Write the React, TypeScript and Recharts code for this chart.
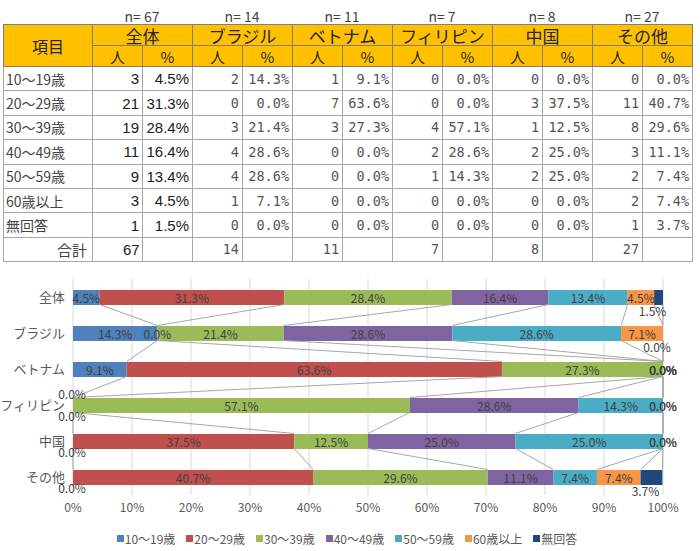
import React from 'react';
import { BarChart, Bar, XAxis, YAxis, CartesianGrid, ReferenceDot, ReferenceLine, Legend } from 'recharts';

const groups = ['全体', 'ブラジル', 'ベトナム', 'フィリピン', '中国', 'その他'];
const groupN = [67, 14, 11, 7, 8, 27];
const ageLabels = ['10〜19歳', '20〜29歳', '30〜39歳', '40〜49歳', '50〜59歳', '60歳以上', '無回答'];
const countsAll = [3, 21, 19, 11, 9, 3, 1];
const countsBrazil = [2, 0, 3, 4, 4, 1, 0];
const countsVietnam = [1, 7, 3, 0, 0, 0, 0];
const countsPhilippines = [0, 0, 4, 2, 1, 0, 0];
const countsChina = [0, 3, 1, 2, 2, 0, 0];
const countsOther = [0, 11, 8, 3, 2, 2, 1];
const pctAll = [4.5, 31.3, 28.4, 16.4, 13.4, 4.5, 1.5];
const pctBrazil = [14.3, 0, 21.4, 28.6, 28.6, 7.1, 0];
const pctVietnam = [9.1, 63.6, 27.3, 0, 0, 0, 0];
const pctPhilippines = [0, 0, 57.1, 28.6, 14.3, 0, 0];
const pctChina = [0, 37.5, 12.5, 25, 25, 0, 0];
const pctOther = [0, 40.7, 29.6, 11.1, 7.4, 7.4, 3.7];
const xTicks = [0, 10, 20, 30, 40, 50, 60, 70, 80, 90, 100];

const countsByGroup = [countsAll, countsBrazil, countsVietnam, countsPhilippines, countsChina, countsOther];
const pctByGroup = [pctAll, pctBrazil, pctVietnam, pctPhilippines, pctChina, pctOther];
const seriesKeys = ['s0', 's1', 's2', 's3', 's4', 's5', 's6'];
const colors = ['#4F81BD', '#C0504D', '#9BBB59', '#8064A2', '#4BACC6', '#F79646', '#1F497D'];

const chartData: any[] = groups.map((g, gi) => {
  const row: any = { name: g };
  seriesKeys.forEach((k, si) => { row[k] = pctByGroup[gi][si]; });
  return row;
});
const cumulative = chartData.map((row) => {
  let c = 0;
  return seriesKeys.map((k) => { c = Math.round((c + row[k]) * 10) / 10; return c; });
});

const JP = '"Noto Sans CJK JP", "Noto Sans", sans-serif';
const BAR_HALF = 7.5;

// label placement (style): zero-width / tiny segments moved off the bar like the original
const labelOffset = (gi: number, si: number) => {
  const row = chartData[gi];
  const v = row[seriesKeys[si]];
  if (si === 0 && v === 0) return { dx: -1, dy: 10.5 };
  if (si === 1 && v === 0 && row.s0 === 0) return { dx: -1, dy: -11.5 };
  if (si === 6 && row.s5 !== 0) return { dx: -6, dy: 13 };
  return { dx: 0, dy: 0 };
};

const makeLabelShape = (gi: number, si: number) => (p: any) => {
  const { dx, dy } = labelOffset(gi, si);
  const v = chartData[gi][seriesKeys[si]];
  return (
    <text x={p.cx + dx} y={p.cy + dy} textAnchor="middle" dominantBaseline="central" fontSize={12} fill="#404040" fontFamily={JP}>
      {v.toFixed(1)}%
    </text>
  );
};

const SeriesLine = (p: any) => (
  <line x1={p.x1} y1={p.y1 + BAR_HALF} x2={p.x2} y2={p.y2 - BAR_HALF} stroke="#A6A6A6" strokeWidth={1} />
);

const renderLegend = () => (
  <div style={{ display: 'flex', justifyContent: 'center', alignItems: 'center', height: 16, fontSize: 12, color: '#595959', fontFamily: JP, paddingLeft: 42 }}>
    {ageLabels.map((l, i) => (
      <span key={l} style={{ display: 'flex', alignItems: 'center', marginRight: 11 }}>
        <span style={{ display: 'inline-block', width: 7, height: 7, background: colors[i], marginRight: 1 }} />
        {l}
      </span>
    ))}
  </div>
);

const hdr: React.CSSProperties = { background: '#FFC000', border: '1px solid #7F7F7F', fontWeight: 'normal', color: '#262626', fontFamily: JP, padding: 0, textAlign: 'center', lineHeight: 1 };
const cellBase: React.CSSProperties = { border: '1px solid #A6A6A6', padding: '0 3px 0 0', textAlign: 'right', whiteSpace: 'nowrap' };
const cellAll: React.CSSProperties = { ...cellBase, fontFamily: '"Liberation Sans", Arial, sans-serif', fontSize: 15, color: '#1a1a1a' };
const cellOther: React.CSSProperties = { ...cellBase, fontFamily: '"DejaVu Sans Mono", monospace', fontSize: 13.5, color: '#555' };
const cellItem: React.CSSProperties = { border: '1px solid #A6A6A6', padding: '0 0 0 2px', textAlign: 'left', fontFamily: JP, fontSize: 14, color: '#444', whiteSpace: 'nowrap' };

export default function App() {
  return (
    <div style={{ position: 'absolute', left: 0, top: 0, width: 700, height: 551, background: '#fff', overflow: 'hidden' }}>
      {groups.map((g, gi) => (
        <div key={g} style={{ position: 'absolute', left: 92 + gi * 100, top: 7, width: 100, textAlign: 'center', fontFamily: JP, fontSize: 14, color: '#444', lineHeight: '18px' }}>
          n= {groupN[gi]}
        </div>
      ))}
      <table style={{ position: 'absolute', left: 3, top: 24, borderCollapse: 'collapse', tableLayout: 'fixed', width: 690 }}>
        <colgroup>
          <col style={{ width: 89 }} />
          {Array.from({ length: 12 }).map((_, i) => <col key={i} style={{ width: 50 }} />)}
        </colgroup>
        <thead>
          <tr style={{ height: 21 }}>
            <th rowSpan={2} style={{ ...hdr, fontSize: 16 }}>項目</th>
            {groups.map((g) => (
              <th key={g} colSpan={2} style={{ ...hdr, fontSize: 17 }}>{g}</th>
            ))}
          </tr>
          <tr style={{ height: 21 }}>
            {groups.map((g) => (
              <React.Fragment key={g}>
                <th style={{ ...hdr, fontSize: 15 }}>人</th>
                <th style={{ ...hdr, fontSize: 15 }}>%</th>
              </React.Fragment>
            ))}
          </tr>
        </thead>
        <tbody>
          {ageLabels.map((a, ai) => (
            <tr key={a} style={{ height: 24.4 }}>
              <td style={cellItem}>{a}</td>
              {groups.map((g, gi) => (
                <React.Fragment key={g}>
                  <td style={gi === 0 ? cellAll : cellOther}>{countsByGroup[gi][ai]}</td>
                  <td style={gi === 0 ? cellAll : cellOther}>{pctByGroup[gi][ai].toFixed(1)}%</td>
                </React.Fragment>
              ))}
            </tr>
          ))}
          <tr style={{ height: 24.4 }}>
            <td style={{ ...cellItem, textAlign: 'right', paddingRight: 5, fontSize: 15 }}>合計</td>
            {groups.map((g, gi) => (
              <React.Fragment key={g}>
                <td style={gi === 0 ? { ...cellAll, textAlign: 'left', paddingLeft: 30 } : cellOther}>{groupN[gi]}</td>
                <td style={cellOther}></td>
              </React.Fragment>
            ))}
          </tr>
        </tbody>
      </table>
      <div style={{ position: 'absolute', left: 0, top: 270 }}>
        <BarChart width={700} height={281} data={chartData} layout="vertical" margin={{ top: 9, right: 37, left: 0, bottom: 5 }} barSize={15}>
          <CartesianGrid horizontal={false} vertical={true} stroke="#D9D9D9" />
          <XAxis type="number" domain={[0, 100]} ticks={xTicks} tickFormatter={(v) => `${v}%`} axisLine={false} tickLine={false} height={35} interval={0}
            tick={{ fontSize: 12, fill: '#595959', fontFamily: JP }} allowDataOverflow />
          <YAxis type="category" dataKey="name" width={73} axisLine={false} tickLine={false}
            tick={{ fontSize: 13, fill: '#595959', fontFamily: JP }} />
          {seriesKeys.map((k, si) => (
            <Bar key={k} dataKey={k} name={ageLabels[si]} stackId="a" fill={colors[si]} isAnimationActive={false} />
          ))}
          {seriesKeys.map((k, si) =>
            groups.slice(0, -1).map((g, gi) => (
              <ReferenceLine key={`${k}-${gi}`}
                segment={[{ x: cumulative[gi][si], y: groups[gi] }, { x: cumulative[gi + 1][si], y: groups[gi + 1] }]}
                stroke="#A6A6A6" ifOverflow="visible" shape={SeriesLine} />
            ))
          )}
          {groups.map((g, gi) =>
            seriesKeys.map((k, si) => {
              const v = chartData[gi][k];
              const start = si === 0 ? 0 : cumulative[gi][si - 1];
              return (
                <ReferenceDot key={`lab-${gi}-${si}`} x={start + v / 2} y={g} r={0} ifOverflow="visible"
                  shape={makeLabelShape(gi, si)} />
              );
            })
          )}
          <Legend verticalAlign="bottom" content={renderLegend} />
        </BarChart>
      </div>
    </div>
  );
}
